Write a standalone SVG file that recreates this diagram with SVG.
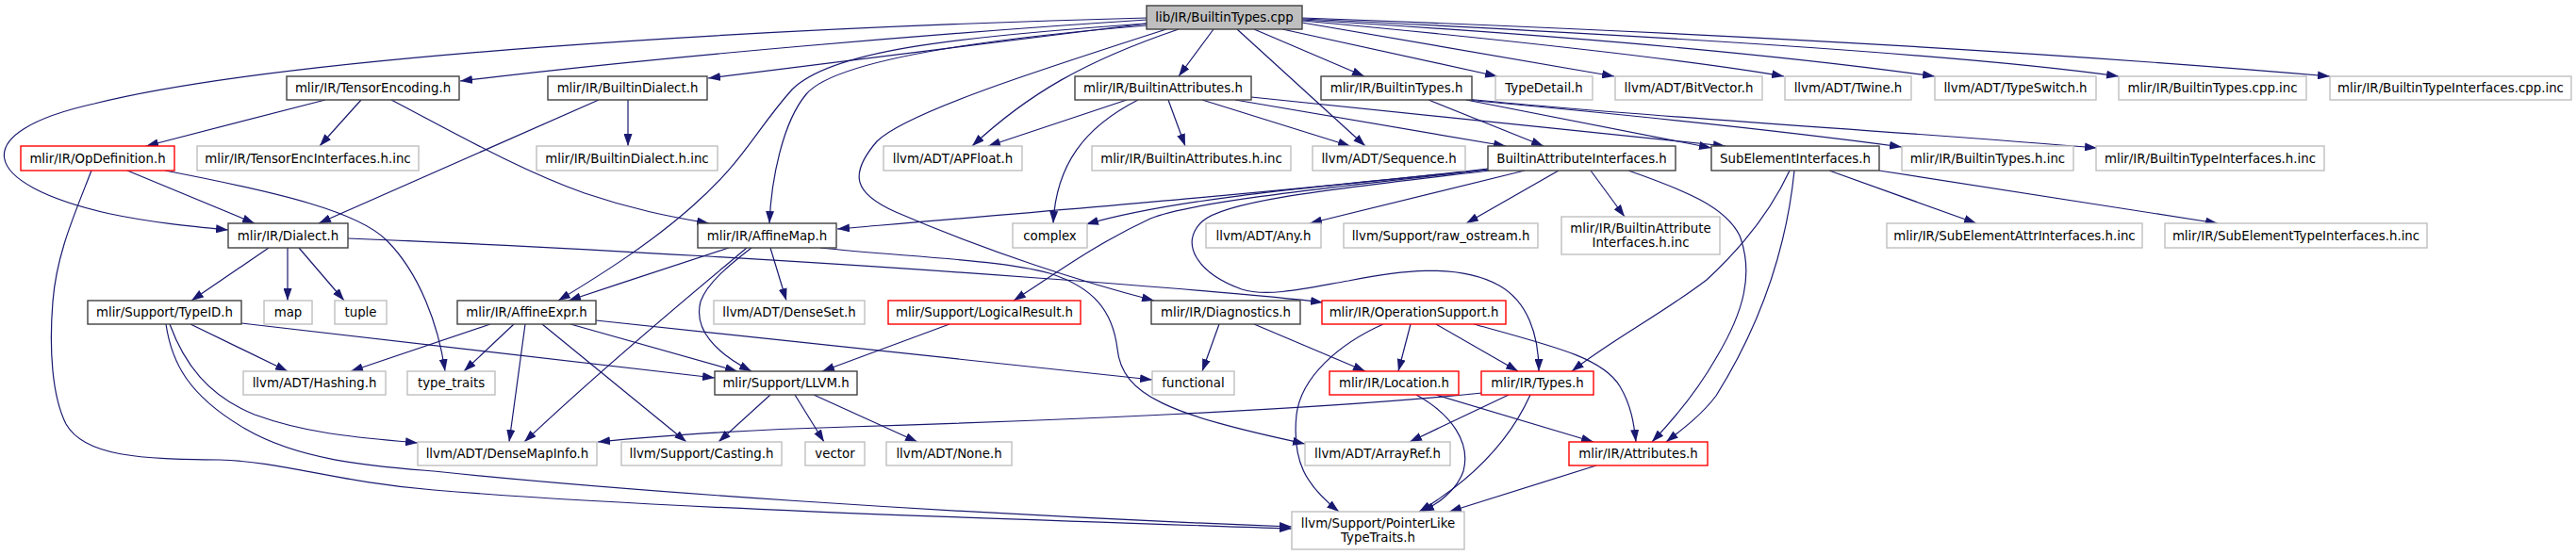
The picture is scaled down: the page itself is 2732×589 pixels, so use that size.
<svg xmlns="http://www.w3.org/2000/svg" width="2732" height="589" viewBox="0 0 2732 589">
<style>
rect{fill:#fff;stroke-width:1.4}
.b rect{stroke:#404040}
.g rect{stroke:#bfbfbf}
.r rect{stroke:#ff0000}
.root rect{fill:#bfbfbf;stroke:#404040}
text{font-family:"DejaVu Sans",sans-serif;font-size:13.33px;text-anchor:middle;fill:#000}
#edges path{fill:none;stroke:#191970;stroke-width:1.2;marker-end:url(#ah)}
</style>
<defs>
<marker id="ah" markerUnits="userSpaceOnUse" markerWidth="13" markerHeight="9" refX="13" refY="4.5" orient="auto">
<path d="M0,0 L13,4.5 L0,9 z" fill="#191970"/>
</marker>
</defs>
<rect x="0" y="0" width="2732" height="589" style="fill:#fff;stroke:none"/>
<g id="edges">
<path d="M1216,21 C1000,35 700,60 488,86"/>
<path d="M1216,25 C1050,45 900,65 751,83"/>
<path d="M1216,19 C800,30 300,60 100,110 C-35,140 -25,195 117,227 C160,236 200,240 242,244"/>
<path d="M1216,27 C1000,45 880,70 855,100 C830,130 818,190 816,237"/>
<path d="M1216,25 C1000,40 880,55 840,95 C800,140 790,170 733,220 C690,258 640,290 592,319"/>
<path d="M1250,31 C1150,65 1090,100 1031,155"/>
<path d="M1237,31 C1100,75 960,120 930,150 C900,185 905,205 950,225 C1050,268 1150,300 1224,319"/>
<path d="M1287,31 L1250,81"/>
<path d="M1312,31 L1448,155"/>
<path d="M1330,31 L1447,81"/>
<path d="M1360,31 L1588,81"/>
<path d="M1381,24 L1712,81"/>
<path d="M1381,22 C1600,42 1800,65 1892,81"/>
<path d="M1381,21 C1700,40 1900,60 2052,81"/>
<path d="M1381,20 C1800,40 2100,60 2247,81"/>
<path d="M1381,19 C1900,38 2250,62 2471,81"/>
<path d="M345,106 L155,155"/>
<path d="M383,106 L339,155"/>
<path d="M415,106 C480,140 550,180 620,205 C670,222 710,230 752,237"/>
<path d="M635,106 L338,237"/>
<path d="M666,106 L666,155"/>
<path d="M1195,106 L1048,155"/>
<path d="M1207,106 C1150,135 1120,175 1117,237"/>
<path d="M1239,106 L1257,155"/>
<path d="M1275,106 L1432,155"/>
<path d="M1310,106 L1597,155"/>
<path d="M1327,103 L1830,155"/>
<path d="M1515,106 L1637,155"/>
<path d="M1555,106 L1815,157"/>
<path d="M1555,106 C1750,124 1900,140 2017,156"/>
<path d="M1555,105 C1750,125 2000,138 2224,157"/>
<path d="M1578,179 C1400,200 1100,225 888,243"/>
<path d="M1578,180 C1400,198 1250,210 1152,238"/>
<path d="M1578,180 C1400,200 1260,215 1220,232 C1160,260 1120,290 1075,319"/>
<path d="M1580,181 C1420,200 1300,212 1275,235 C1250,258 1270,290 1317,307 C1345,316 1390,305 1430,298 C1480,288 1545,278 1590,303 C1620,320 1632,355 1632,394"/>
<path d="M1617,181 L1389,237"/>
<path d="M1653,181 L1555,237"/>
<path d="M1687,181 L1723,230"/>
<path d="M1727,181 C1790,203 1830,220 1845,250 C1860,290 1850,330 1820,380 C1800,415 1775,445 1752,469"/>
<path d="M1898,181 C1880,220 1850,260 1810,297 C1760,335 1710,360 1667,394"/>
<path d="M1903,181 C1895,260 1870,340 1820,420 C1805,440 1785,455 1767,469"/>
<path d="M1940,181 L2096,237"/>
<path d="M1993,181 L2352,237"/>
<path d="M135,181 L270,237"/>
<path d="M97,181 C78,230 60,270 56,320 C52,370 55,420 70,450 C90,485 150,487 233,488 C300,490 360,512 460,520 C700,540 1100,552 1370,561"/>
<path d="M175,181 C300,205 380,225 410,255 C445,290 465,345 472,394"/>
<path d="M285,263 L203,319"/>
<path d="M305,263 L305,319"/>
<path d="M317,263 L365,319"/>
<path d="M369,253 C600,262 900,280 1100,295 C1250,306 1340,313 1403,321"/>
<path d="M870,263 C950,272 1060,275 1113,290 C1160,305 1180,330 1185,370 C1190,420 1240,440 1384,471"/>
<path d="M202,344 L305,394"/>
<path d="M256,343 L758,401"/>
<path d="M180,344 C195,385 220,420 270,440 C330,462 390,465 443,470"/>
<path d="M176,344 C182,385 200,420 260,455 C320,490 400,495 460,500 C650,520 1000,545 1370,559"/>
<path d="M773,263 C720,280 660,300 603,319"/>
<path d="M797,263 C775,280 750,300 743,320 C735,350 760,375 797,394"/>
<path d="M792,263 C760,290 650,380 556,469"/>
<path d="M817,263 L834,319"/>
<path d="M520,344 L372,394"/>
<path d="M545,344 L492,394"/>
<path d="M557,344 L540,469"/>
<path d="M575,344 L728,469"/>
<path d="M605,344 L782,394"/>
<path d="M632,340 L1222,403"/>
<path d="M817,419 L762,469"/>
<path d="M843,419 L874,469"/>
<path d="M863,419 L973,469"/>
<path d="M1007,344 L872,394"/>
<path d="M1293,344 L1275,394"/>
<path d="M1330,344 L1448,394"/>
<path d="M1467,344 C1420,365 1380,400 1375,440 C1370,490 1385,515 1420,543"/>
<path d="M1496,344 L1483,394"/>
<path d="M1523,344 L1610,394"/>
<path d="M1563,344 C1650,368 1700,380 1718,410 C1730,430 1733,450 1735,469"/>
<path d="M1502,419 C1540,440 1560,470 1552,500 C1545,520 1525,535 1508,543"/>
<path d="M1523,419 L1690,469"/>
<path d="M1572,417 C1400,435 1100,447 900,453 C800,456 700,462 634,469"/>
<path d="M1600,419 L1495,469"/>
<path d="M1623,419 C1600,470 1560,510 1505,543"/>
<path d="M1693,494 L1537,543"/>
</g>
<g id="n_root" class="root"><rect x="1216" y="6" width="165" height="25"/><text x="1298.5" y="23">lib/IR/BuiltinTypes.cpp</text></g>
<g id="n_tensorenc" class="b"><rect x="304" y="81" width="183" height="25"/><text x="395.5" y="98">mlir/IR/TensorEncoding.h</text></g>
<g id="n_builtindialect" class="b"><rect x="581" y="81" width="169" height="25"/><text x="665.5" y="98">mlir/IR/BuiltinDialect.h</text></g>
<g id="n_builtinattrs" class="b"><rect x="1140" y="81" width="187" height="25"/><text x="1233.5" y="98">mlir/IR/BuiltinAttributes.h</text></g>
<g id="n_builtintypes" class="b"><rect x="1401" y="81" width="160" height="25"/><text x="1481" y="98">mlir/IR/BuiltinTypes.h</text></g>
<g id="n_typedetail" class="g"><rect x="1586" y="81" width="103" height="25"/><text x="1637.5" y="98">TypeDetail.h</text></g>
<g id="n_bitvector" class="g"><rect x="1713" y="81" width="156" height="25"/><text x="1791" y="98">llvm/ADT/BitVector.h</text></g>
<g id="n_twine" class="g"><rect x="1893" y="81" width="134" height="25"/><text x="1960" y="98">llvm/ADT/Twine.h</text></g>
<g id="n_typeswitch" class="g"><rect x="2052" y="81" width="171" height="25"/><text x="2137.5" y="98">llvm/ADT/TypeSwitch.h</text></g>
<g id="n_btcppinc" class="g"><rect x="2247" y="81" width="199" height="25"/><text x="2346.5" y="98">mlir/IR/BuiltinTypes.cpp.inc</text></g>
<g id="n_bticppinc" class="g"><rect x="2471" y="81" width="256" height="25"/><text x="2599" y="98">mlir/IR/BuiltinTypeInterfaces.cpp.inc</text></g>
<g id="n_opdef" class="r"><rect x="22" y="155" width="163" height="26"/><text x="103.5" y="172.5">mlir/IR/OpDefinition.h</text></g>
<g id="n_teinc" class="g"><rect x="209" y="155" width="235" height="26"/><text x="326.5" y="172.5">mlir/IR/TensorEncInterfaces.h.inc</text></g>
<g id="n_bdinc" class="g"><rect x="569" y="155" width="192" height="26"/><text x="665" y="172.5">mlir/IR/BuiltinDialect.h.inc</text></g>
<g id="n_apfloat" class="g"><rect x="937" y="155" width="147" height="26"/><text x="1010.5" y="172.5">llvm/ADT/APFloat.h</text></g>
<g id="n_bainc" class="g"><rect x="1158" y="155" width="211" height="26"/><text x="1263.5" y="172.5">mlir/IR/BuiltinAttributes.h.inc</text></g>
<g id="n_sequence" class="g"><rect x="1392" y="155" width="162" height="26"/><text x="1473" y="172.5">llvm/ADT/Sequence.h</text></g>
<g id="n_bai" class="b"><rect x="1578" y="155" width="199" height="26"/><text x="1677.5" y="172.5">BuiltinAttributeInterfaces.h</text></g>
<g id="n_subelem" class="b"><rect x="1815" y="155" width="178" height="26"/><text x="1904" y="172.5">SubElementInterfaces.h</text></g>
<g id="n_btinc" class="g"><rect x="2017" y="155" width="182" height="26"/><text x="2108" y="172.5">mlir/IR/BuiltinTypes.h.inc</text></g>
<g id="n_btiinc" class="g"><rect x="2223" y="155" width="242" height="26"/><text x="2344" y="172.5">mlir/IR/BuiltinTypeInterfaces.h.inc</text></g>
<g id="n_dialect" class="b"><rect x="242" y="237" width="127" height="26"/><text x="305.5" y="254.5">mlir/IR/Dialect.h</text></g>
<g id="n_affinemap" class="b"><rect x="740" y="237" width="147" height="26"/><text x="813.5" y="254.5">mlir/IR/AffineMap.h</text></g>
<g id="n_complex" class="g"><rect x="1074" y="237" width="79" height="26"/><text x="1113.5" y="254.5">complex</text></g>
<g id="n_any" class="g"><rect x="1279" y="237" width="122" height="26"/><text x="1340" y="254.5">llvm/ADT/Any.h</text></g>
<g id="n_rawostream" class="g"><rect x="1425" y="237" width="206" height="26"/><text x="1528" y="254.5">llvm/Support/raw_ostream.h</text></g>
<g id="n_baiinc" class="g"><rect x="1656" y="230" width="168" height="40"/><text x="1740" y="246.5">mlir/IR/BuiltinAttribute</text><text x="1740" y="261.5">Interfaces.h.inc</text></g>
<g id="n_seattrinc" class="g"><rect x="2001" y="237" width="271" height="26"/><text x="2136.5" y="254.5">mlir/IR/SubElementAttrInterfaces.h.inc</text></g>
<g id="n_setypeinc" class="g"><rect x="2296" y="237" width="278" height="26"/><text x="2435" y="254.5">mlir/IR/SubElementTypeInterfaces.h.inc</text></g>
<g id="n_typeid" class="b"><rect x="93" y="319" width="163" height="25"/><text x="174.5" y="336">mlir/Support/TypeID.h</text></g>
<g id="n_map" class="g"><rect x="280" y="319" width="51" height="25"/><text x="305.5" y="336">map</text></g>
<g id="n_tuple" class="g"><rect x="355" y="319" width="55" height="25"/><text x="382.5" y="336">tuple</text></g>
<g id="n_affineexpr" class="b"><rect x="485" y="319" width="147" height="25"/><text x="558.5" y="336">mlir/IR/AffineExpr.h</text></g>
<g id="n_denseset" class="g"><rect x="757" y="319" width="160" height="25"/><text x="837" y="336">llvm/ADT/DenseSet.h</text></g>
<g id="n_logicalresult" class="r"><rect x="942" y="319" width="204" height="25"/><text x="1044" y="336">mlir/Support/LogicalResult.h</text></g>
<g id="n_diagnostics" class="b"><rect x="1221" y="319" width="158" height="25"/><text x="1300" y="336">mlir/IR/Diagnostics.h</text></g>
<g id="n_opsupport" class="r"><rect x="1402" y="319" width="195" height="25"/><text x="1499.5" y="336">mlir/IR/OperationSupport.h</text></g>
<g id="n_hashing" class="g"><rect x="258" y="394" width="151" height="25"/><text x="333.5" y="411">llvm/ADT/Hashing.h</text></g>
<g id="n_typetraits" class="g"><rect x="432" y="394" width="93" height="25"/><text x="478.5" y="411">type_traits</text></g>
<g id="n_llvm" class="b"><rect x="758" y="394" width="151" height="25"/><text x="833.5" y="411">mlir/Support/LLVM.h</text></g>
<g id="n_functional" class="g"><rect x="1222" y="394" width="87" height="25"/><text x="1265.5" y="411">functional</text></g>
<g id="n_location" class="r"><rect x="1410" y="394" width="137" height="25"/><text x="1478.5" y="411">mlir/IR/Location.h</text></g>
<g id="n_types" class="r"><rect x="1571" y="394" width="119" height="25"/><text x="1630.5" y="411">mlir/IR/Types.h</text></g>
<g id="n_densemapinfo" class="g"><rect x="443" y="469" width="190" height="25"/><text x="538" y="486">llvm/ADT/DenseMapInfo.h</text></g>
<g id="n_casting" class="g"><rect x="659" y="469" width="170" height="25"/><text x="744" y="486">llvm/Support/Casting.h</text></g>
<g id="n_vector" class="g"><rect x="854" y="469" width="63" height="25"/><text x="885.5" y="486">vector</text></g>
<g id="n_none" class="g"><rect x="940" y="469" width="133" height="25"/><text x="1006.5" y="486">llvm/ADT/None.h</text></g>
<g id="n_arrayref" class="g"><rect x="1384" y="469" width="154" height="25"/><text x="1461" y="486">llvm/ADT/ArrayRef.h</text></g>
<g id="n_attributes" class="r"><rect x="1664" y="469" width="147" height="25"/><text x="1737.5" y="486">mlir/IR/Attributes.h</text></g>
<g id="n_pointer" class="g"><rect x="1370" y="543" width="183" height="40"/><text x="1461.5" y="559.5">llvm/Support/PointerLike</text><text x="1461.5" y="574.5">TypeTraits.h</text></g>
</svg>
